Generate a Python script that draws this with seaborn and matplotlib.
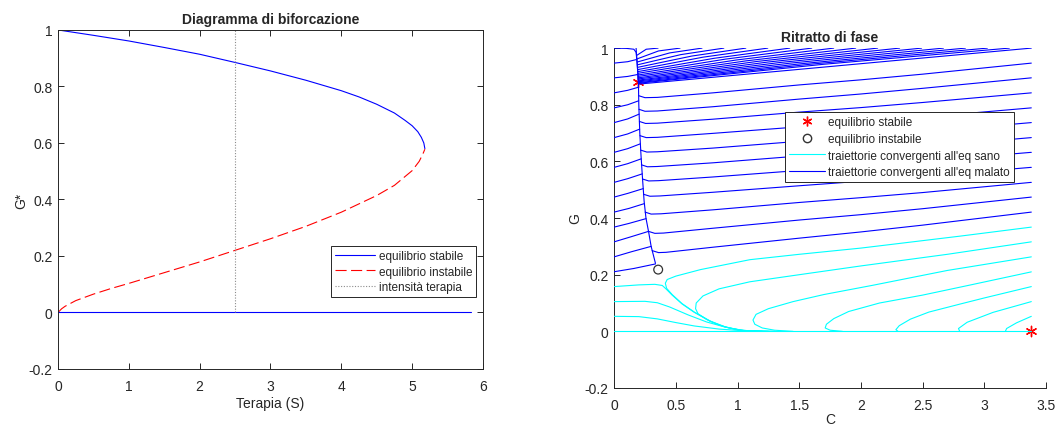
import numpy as np
import pandas as pd
import matplotlib
matplotlib.use("Agg")
import matplotlib.pyplot as plt
import seaborn as sns
from matplotlib.lines import Line2D

# ---------------- data: bifurcation diagram ----------------
stable_upper_S = [0, 0.5, 1.0, 1.5, 2.0, 2.5, 3.0, 3.5, 4.0, 4.25, 4.5, 4.75, 4.9, 5.0, 5.08, 5.13, 5.165, 5.18]
stable_upper_G = [1.0, 0.981, 0.961, 0.938, 0.914, 0.885, 0.855, 0.822, 0.785, 0.763, 0.737, 0.706, 0.680,
                  0.661, 0.640, 0.620, 0.600, 0.580]
unstable_S = [0, 0.05, 0.1, 0.25, 0.5, 0.75, 1.0, 1.5, 2.0, 2.5, 3.0, 3.5, 4.0, 4.5, 4.75, 5.0, 5.1, 5.15, 5.18]
unstable_G = [0, 0.013, 0.022, 0.042, 0.065, 0.085, 0.103, 0.141, 0.179, 0.220, 0.261, 0.305, 0.355, 0.414,
              0.450, 0.502, 0.535, 0.560, 0.578]
stable_zero_S = [0, 5.83]
stable_zero_G = [0, 0]
therapy_S = [2.5, 2.5]
therapy_G = [0, 1]
bif_xticks = [0, 1, 2, 3, 4, 5, 6]
yticks = [-0.2, 0, 0.2, 0.4, 0.6, 0.8, 1]
ytick_labels = ["-0.2", "0", "0.2", "0.4", "0.6", "0.8", "1"]

# ---------------- data: phase portrait ----------------
eq_stable_C = [0.197, 3.38]
eq_stable_G = [0.88, 0.0]
eq_unstable_C = [0.357]
eq_unstable_G = [0.218]

spine_C = [0.178, 0.186, 0.197, 0.200, 0.208, 0.218, 0.230, 0.243, 0.258, 0.280, 0.300, 0.335]
spine_G = [1.0, 0.95, 0.88, 0.80, 0.70, 0.62, 0.54, 0.46, 0.40, 0.35, 0.30, 0.240]

corner_traj = [(0, 1.0), (0.1, 0.999), (0.16, 0.996), (0.178, 0.985), (0.186, 0.95), (0.197, 0.88)]

top_blue = [
    [(0.356, 1.0), (0.26, 0.996), (0.186, 0.975)],
    [(0.534, 1.0), (0.36, 0.990), (0.187, 0.962)],
    [(0.712, 1.0), (0.45, 0.983), (0.188, 0.951)],
    [(0.889, 1.0), (0.54, 0.977), (0.189, 0.941)],
    [(1.067, 1.0), (0.63, 0.972), (0.190, 0.932)],
    [(1.245, 1.0), (0.72, 0.968), (0.191, 0.924)],
    [(1.423, 1.0), (0.81, 0.964), (0.192, 0.917)],
    [(1.601, 1.0), (0.90, 0.961), (0.193, 0.911)],
    [(1.779, 1.0), (0.99, 0.958), (0.193, 0.905)],
    [(1.957, 1.0), (1.07, 0.955), (0.194, 0.900)],
    [(2.135, 1.0), (1.16, 0.953), (0.195, 0.895)],
    [(2.313, 1.0), (1.25, 0.951), (0.195, 0.891)],
    [(2.491, 1.0), (1.34, 0.949), (0.196, 0.887)],
    [(2.668, 1.0), (1.43, 0.947), (0.196, 0.884)],
    [(2.846, 1.0), (1.52, 0.945), (0.197, 0.881)],
    [(3.024, 1.0), (1.61, 0.944), (0.197, 0.878)],
    [(3.202, 1.0), (1.70, 0.943), (0.198, 0.876)],
]

right_blue = [
    [(3.38, 1.0), (2.5, 0.965), (2.0, 0.945), (1.5, 0.925), (0.8, 0.897), (0.35, 0.879), (0.2, 0.873)],
    [(3.38, 0.947), (2.5, 0.908), (2.0, 0.888), (1.5, 0.870), (0.8, 0.842), (0.35, 0.826), (0.25, 0.825), (0.199, 0.832)],
    [(3.38, 0.895), (2.5, 0.858), (2.0, 0.838), (1.5, 0.820), (0.8, 0.793), (0.35, 0.778), (0.25, 0.777), (0.201, 0.784)],
    [(3.38, 0.842), (2.5, 0.808), (2.0, 0.790), (1.5, 0.774), (0.8, 0.749), (0.35, 0.735), (0.255, 0.734), (0.205, 0.741)],
    [(3.38, 0.789), (2.5, 0.756), (2.0, 0.738), (1.5, 0.722), (0.8, 0.699), (0.35, 0.685), (0.26, 0.684), (0.209, 0.691)],
    [(3.38, 0.737), (2.5, 0.704), (2.0, 0.687), (1.5, 0.671), (0.8, 0.647), (0.35, 0.634), (0.265, 0.633), (0.214, 0.640)],
    [(3.38, 0.684), (2.5, 0.651), (2.0, 0.634), (1.5, 0.619), (0.8, 0.595), (0.35, 0.582), (0.27, 0.581), (0.221, 0.588)],
    [(3.38, 0.632), (2.5, 0.600), (2.0, 0.583), (1.5, 0.568), (0.8, 0.545), (0.36, 0.532), (0.28, 0.531), (0.229, 0.538)],
    [(3.38, 0.579), (2.5, 0.547), (2.0, 0.530), (1.5, 0.514), (0.8, 0.491), (0.37, 0.478), (0.29, 0.477), (0.238, 0.484)],
    [(3.38, 0.526), (2.5, 0.490), (2.0, 0.472), (1.5, 0.455), (0.8, 0.429), (0.38, 0.415), (0.30, 0.414), (0.251, 0.421)],
    [(3.38, 0.474), (2.5, 0.433), (2.0, 0.412), (1.5, 0.393), (0.8, 0.364), (0.40, 0.347), (0.33, 0.346), (0.278, 0.353)],
    [(3.38, 0.421), (2.5, 0.375), (2.0, 0.351), (1.5, 0.329), (0.8, 0.297), (0.42, 0.279), (0.36, 0.278), (0.308, 0.285)],
]

left_blue = [
    [(0, 0.947), (0.11, 0.952), (0.184, 0.960)],
    [(0, 0.895), (0.11, 0.900), (0.193, 0.907)],
    [(0, 0.842), (0.11, 0.851), (0.198, 0.862)],
    [(0, 0.789), (0.11, 0.800), (0.199, 0.814)],
    [(0, 0.737), (0.11, 0.750), (0.203, 0.767)],
    [(0, 0.684), (0.11, 0.697), (0.207, 0.714)],
    [(0, 0.632), (0.11, 0.645), (0.212, 0.662)],
    [(0, 0.579), (0.11, 0.592), (0.219, 0.609)],
    [(0, 0.526), (0.11, 0.539), (0.228, 0.556)],
    [(0, 0.474), (0.11, 0.487), (0.236, 0.504)],
    [(0, 0.421), (0.12, 0.434), (0.245, 0.451)],
    [(0, 0.368), (0.12, 0.381), (0.259, 0.398)],
    [(0, 0.316), (0.13, 0.333), (0.279, 0.353)],
    [(0, 0.263), (0.14, 0.281), (0.300, 0.300)],
    [(0, 0.2105), (0.16, 0.222), (0.335, 0.238)],
]

left_cyan = [
    [(0, 0.0), (3.38, 0.0)],
    [(0, 0.053), (0.2, 0.052), (0.35, 0.044), (0.5, 0.031), (0.65, 0.019), (0.85, 0.008), (1.05, 0.002), (1.3, 0.0)],
    [(0, 0.105), (0.25, 0.106), (0.35, 0.101), (0.45, 0.086), (0.6, 0.058), (0.75, 0.033), (0.9, 0.015), (1.05, 0.003), (1.3, 0.0)],
    [(0, 0.158), (0.2, 0.164), (0.33, 0.166), (0.39, 0.162), (0.42, 0.150), (0.47, 0.128), (0.55, 0.097),
     (0.65, 0.067), (0.78, 0.035), (0.9, 0.015), (1.02, 0.004), (1.2, 0.0)],
]

right_cyan = [
    [(3.38, 0.368), (2.8, 0.336), (2.0, 0.294), (1.5, 0.272), (1.1, 0.253), (0.7, 0.218), (0.5, 0.195), (0.43, 0.183),
     (0.415, 0.170), (0.425, 0.152), (0.47, 0.130), (0.55, 0.098), (0.65, 0.068), (0.78, 0.036), (0.9, 0.016),
     (1.02, 0.004), (1.2, 0.0)],
    [(3.38, 0.316), (2.7, 0.272), (2.0, 0.231), (1.5, 0.200), (1.1, 0.175), (0.85, 0.150), (0.72, 0.125), (0.665, 0.100),
     (0.66, 0.080), (0.68, 0.062), (0.75, 0.042), (0.85, 0.022), (0.95, 0.010), (1.05, 0.003), (1.25, 0.0)],
    [(3.38, 0.263), (2.7, 0.215), (2.1, 0.163), (1.7, 0.130), (1.45, 0.105), (1.25, 0.080), (1.15, 0.060), (1.125, 0.040),
     (1.14, 0.025), (1.2, 0.012), (1.3, 0.004), (1.45, 0.0)],
    [(3.38, 0.210), (2.9, 0.165), (2.5, 0.128), (2.15, 0.100), (1.9, 0.070), (1.78, 0.045), (1.72, 0.025), (1.71, 0.012),
     (1.75, 0.004), (1.85, 0.0)],
    [(3.38, 0.158), (3.0, 0.118), (2.8, 0.096), (2.55, 0.068), (2.4, 0.043), (2.31, 0.020), (2.283, 0.006), (2.3, 0.0)],
    [(3.38, 0.105), (3.07, 0.067), (2.86, 0.032), (2.79, 0.010), (2.8, 0.0)],
    [(3.38, 0.053), (3.26, 0.030), (3.18, 0.010), (3.17, 0.0)],
]
phase_xticks = [0, 0.5, 1, 1.5, 2, 2.5, 3, 3.5]
phase_xtick_labels = ["0", "0.5", "1", "1.5", "2", "2.5", "3", "3.5"]

# ---------------- styling ----------------
sns.set_theme(style="white")
plt.rcParams["font.family"] = ["Liberation Sans", "DejaVu Sans"]
plt.rcParams["axes.unicode_minus"] = False
AX_COL = "#262626"
BLUE = "#0000ff"
CYAN = "#00ffff"
LW = 0.8
ASTERISK = (6, 2, 0)

fig = plt.figure(figsize=(10.57, 4.27), dpi=100)
ax1 = fig.add_axes([0.0549, 0.1335, 0.402, 0.794])
ax2 = fig.add_axes([0.581, 0.089, 0.4087, 0.796])


def traj_frame(trajs):
    rows = []
    for k, t in enumerate(trajs):
        for i, (c, g) in enumerate(t):
            rows.append({"traj": k, "order": i, "C": c, "G": g})
    return pd.DataFrame(rows)


def style_axes(ax, box):
    for side in ["left", "bottom", "top", "right"]:
        ax.spines[side].set_color(AX_COL)
        ax.spines[side].set_linewidth(0.7)
    if not box:
        ax.spines["top"].set_visible(False)
        ax.spines["right"].set_visible(False)
    ax.tick_params(direction="in", length=4, width=0.7, colors=AX_COL, labelsize=10,
                   top=box, right=box, bottom=True, left=True)
    ax.tick_params(axis="x", pad=7.5)
    ax.tick_params(axis="y", pad=4)


# ---------------- left panel ----------------
sns.lineplot(x=stable_upper_S, y=stable_upper_G, ax=ax1, color=BLUE, lw=LW, sort=False, estimator=None)
sns.lineplot(x=unstable_S, y=unstable_G, ax=ax1, color="#ff0000", lw=LW, sort=False, estimator=None,
             linestyle=(0, (10, 4)))
sns.lineplot(x=stable_zero_S, y=stable_zero_G, ax=ax1, color=BLUE, lw=LW, sort=False, estimator=None)
sns.lineplot(x=therapy_S, y=therapy_G, ax=ax1, color="#8c8c8c", lw=LW, sort=False, estimator=None,
             linestyle=(0, (1, 1.5)))
ax1.set_xlim(0, 6)
ax1.set_ylim(-0.2, 1)
ax1.set_xticks(bif_xticks)
ax1.set_xticklabels([str(v) for v in bif_xticks])
ax1.set_yticks(yticks)
ax1.set_yticklabels(ytick_labels)
style_axes(ax1, True)
ax1.set_title("Diagramma di biforcazione", fontsize=10, fontweight="bold", pad=5)
ax1.set_xlabel("Terapia (S)", fontsize=10, color=AX_COL, labelpad=2)
ax1.set_ylabel("G*", fontsize=10, color=AX_COL, labelpad=0.5)
h1 = [Line2D([], [], color=BLUE, lw=LW),
      Line2D([], [], color="#ff0000", lw=LW, linestyle=(0, (10, 4))),
      Line2D([], [], color="#8c8c8c", lw=LW, linestyle=(0, (1, 1.5)))]
leg1 = ax1.legend(h1, ["equilibrio stabile", "equilibrio instabile", "intensità terapia"],
                  loc="upper left", bbox_to_anchor=(0.642, 0.363), borderaxespad=0, fontsize=8.5,
                  frameon=True, fancybox=False, edgecolor=AX_COL, framealpha=1, handlelength=3.4,
                  handletextpad=0.3, borderpad=0.35, labelspacing=0.3)
leg1.get_frame().set_linewidth(0.7)

# ---------------- right panel ----------------
sns.scatterplot(x=eq_stable_C, y=eq_stable_G, ax=ax2, marker=ASTERISK, s=55, color="#ff0000",
                edgecolor="#ff0000", linewidth=1.0, zorder=2)
sns.scatterplot(x=eq_unstable_C, y=eq_unstable_G, ax=ax2, marker="o", s=40, facecolor="none",
                edgecolor="#333333", linewidth=0.9, zorder=2)

cyan_df = traj_frame(left_cyan + right_cyan)
blue_df = traj_frame(left_blue + right_blue + top_blue + [corner_traj])
sns.lineplot(data=cyan_df, x="C", y="G", units="traj", estimator=None, sort=False, ax=ax2,
             color=CYAN, lw=LW, zorder=3)
sns.lineplot(data=blue_df, x="C", y="G", units="traj", estimator=None, sort=False, ax=ax2,
             color=BLUE, lw=LW, zorder=3)
sns.lineplot(x=spine_C, y=spine_G, ax=ax2, color=BLUE, lw=LW, sort=False, estimator=None, zorder=3)

ax2.set_xlim(0, 3.5)
ax2.set_ylim(-0.2, 1)
ax2.set_xticks(phase_xticks)
ax2.set_xticklabels(phase_xtick_labels)
ax2.set_yticks(yticks)
ax2.set_yticklabels(ytick_labels)
style_axes(ax2, False)
ax2.set_title("Ritratto di fase", fontsize=10, fontweight="bold", pad=5)
ax2.set_xlabel("C", fontsize=10, color=AX_COL, labelpad=0)
ax2.set_ylabel("G", fontsize=10, color=AX_COL, labelpad=2)
h2 = [Line2D([], [], color="#ff0000", marker=ASTERISK, linestyle="none", markersize=7, markeredgewidth=1.0),
      Line2D([], [], color="#333333", marker="o", markerfacecolor="none", linestyle="none", markersize=6),
      Line2D([], [], color=CYAN, lw=LW),
      Line2D([], [], color=BLUE, lw=LW)]
leg2 = ax2.legend(h2, ["equilibrio stabile", "equilibrio instabile",
                       "traiettorie convergenti all'eq sano", "traiettorie convergenti all'eq malato"],
                  loc="upper left", bbox_to_anchor=(0.396, 0.812), borderaxespad=0, fontsize=8.5,
                  frameon=True, fancybox=False, edgecolor=AX_COL, framealpha=1, handlelength=3.0,
                  handletextpad=0.3, borderpad=0.35, labelspacing=0.4)
leg2.get_frame().set_linewidth(0.7)
leg2.set_zorder(10)

fig.savefig("out.png", dpi=100, facecolor="white")
